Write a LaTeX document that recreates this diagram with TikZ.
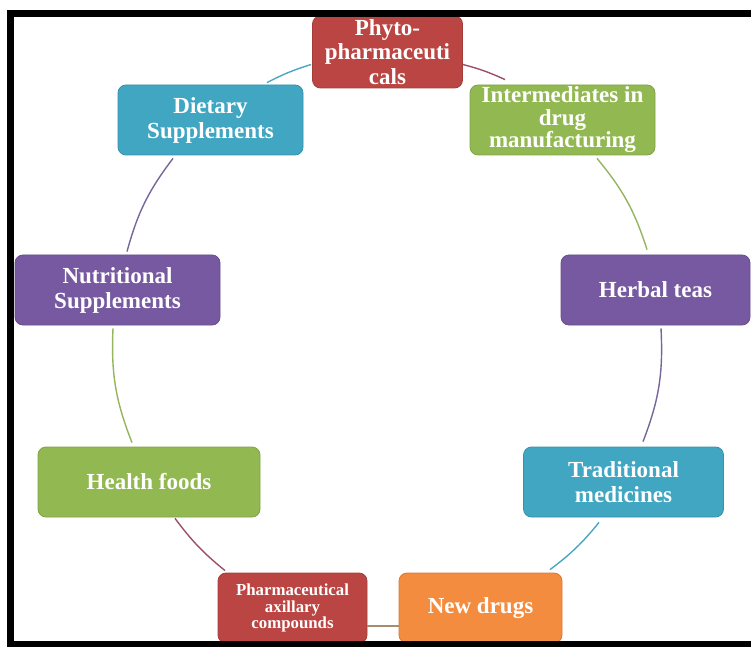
\documentclass[tikz,border=0pt]{standalone}
\usepackage{fontspec}
\setmainfont{Liberation Serif}
\definecolor{boxred}{HTML}{BA4542}
\definecolor{boxgreen}{HTML}{92B851}
\definecolor{boxpurple}{HTML}{7659A0}
\definecolor{boxteal}{HTML}{40A6C2}
\definecolor{boxorange}{HTML}{F38C3E}
\definecolor{linkred}{HTML}{9C4F68}
\definecolor{linkgreen}{HTML}{95B45E}
\definecolor{linkpurple}{HTML}{75679A}
\definecolor{linkteal}{HTML}{4BA6C0}
\definecolor{linkorange}{HTML}{A88C72}
\begin{document}
\begin{tikzpicture}[x=1pt,y=1pt,
  item/.style={rounded corners=8pt, inner sep=0pt, align=center, text=white,
    line width=0.8pt, font=\fontsize{23}{25}\selectfont\bfseries},
  link/.style={line width=1.4pt}]
\useasboundingbox (0,0) rectangle (751,646);

% boxes of the cycle
\node[item, fill=boxred, draw=boxred!88!black, minimum width=150pt, minimum height=72pt,
  font=\fontsize{23}{24.5}\selectfont\bfseries] (phyto) at (387.5,594) {Phyto-\\pharmaceuti\\cals};
\node[item, fill=boxgreen, draw=boxgreen!88!black, minimum width=185pt, minimum height=70pt,
  font=\fontsize{23}{22.5}\selectfont\bfseries] (inter) at (562.5,526) {Intermediates in\\drug\\manufacturing};
\node[item, fill=boxpurple, draw=boxpurple!88!black, minimum width=189pt, minimum height=70pt] (herbal) at (655.5,356) {Herbal teas};
\node[item, fill=boxteal, draw=boxteal!88!black, minimum width=200pt, minimum height=70pt] (trad) at (623.5,164) {Traditional\\medicines};
\node[item, fill=boxorange, draw=boxorange!88!black, minimum width=163pt, minimum height=70pt] (newd) at (480.5,38) {New drugs};
\node[item, fill=boxred, draw=boxred!88!black, minimum width=149pt, minimum height=70pt,
  font=\fontsize{16.8}{16.5}\selectfont\bfseries] (pharma) at (292.5,38) {Pharmaceutical\\axillary\\compounds};
\node[item, fill=boxgreen, draw=boxgreen!88!black, minimum width=222pt, minimum height=70pt] (health) at (149,164) {Health foods};
\node[item, fill=boxpurple, draw=boxpurple!88!black, minimum width=205pt, minimum height=70pt] (nutri) at (117.5,356) {Nutritional\\Supplements};
\node[item, fill=boxteal, draw=boxteal!88!black, minimum width=185pt, minimum height=70pt] (diet) at (210.5,526) {Dietary\\Supplements};

% arcs joining the boxes clockwise
\draw[link, draw=linkred] ([yshift=-12.5pt]phyto.east) to[bend left=5] ([xshift=-57.5pt,yshift=5pt]inter.north);
\draw[link, draw=linkgreen] ([xshift=34.5pt,yshift=-3pt]inter.south) to[bend left=11] ([xshift=-8.5pt,yshift=5pt]herbal.north);
\draw[link, draw=linkpurple] ([xshift=5.5pt,yshift=-3pt]herbal.south) to[bend left=12] ([xshift=19.5pt,yshift=5pt]trad.north);
\draw[link, draw=linkteal] ([xshift=-24.5pt,yshift=-5pt]trad.south) to[bend left=7] ([xshift=69.5pt,yshift=3pt]newd.north);
\draw[link, draw=linkorange] ([yshift=-18pt]newd.west) -- ([yshift=-18pt]pharma.east);
\draw[link, draw=linkred] ([xshift=-67.5pt,yshift=2pt]pharma.north) to[bend left=7] ([xshift=26pt,yshift=-1pt]health.south);
\draw[link, draw=linkgreen] ([xshift=-17pt,yshift=4pt]health.north) to[bend left=12] ([xshift=-4.5pt,yshift=-3pt]nutri.south);
\draw[link, draw=linkpurple] ([xshift=9.5pt,yshift=3pt]nutri.north) to[bend left=11] ([xshift=-37.5pt,yshift=-3pt]diet.south);
\draw[link, draw=linkteal] ([xshift=56.5pt,yshift=2pt]diet.north) to[bend left=5] ([xshift=-1pt,yshift=-12.5pt]phyto.west);

% black frame
\draw[line width=7pt, black] (10,2) rectangle (760,632.5);
\end{tikzpicture}
\end{document}
